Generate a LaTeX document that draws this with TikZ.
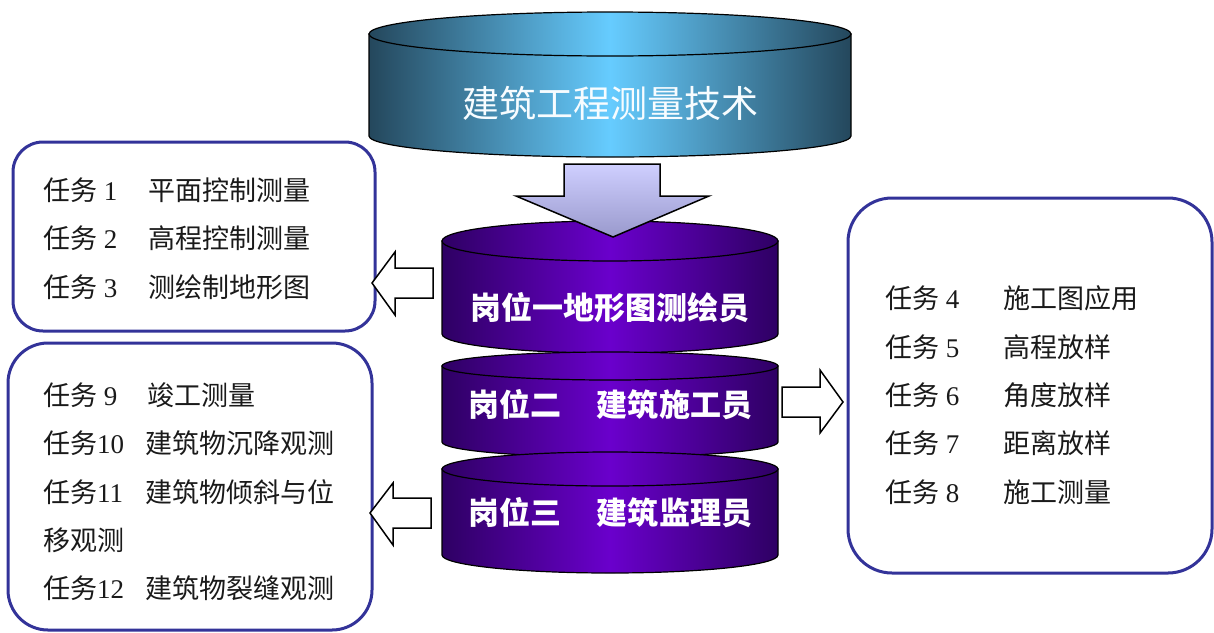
\documentclass[tikz,border=0pt]{standalone}
\usepackage{fontspec}
\setmainfont{Liberation Serif}
\newfontfamily\cjk{Noto Sans CJK SC}
\definecolor{boxblue}{HTML}{333399}
\definecolor{txtgray}{HTML}{1A1A1A}
\definecolor{tealdark}{HTML}{24475C}
\definecolor{teallight}{HTML}{66CCFF}
\definecolor{purpdark}{HTML}{2E0063}
\definecolor{purplight}{HTML}{6A00CC}
\definecolor{arrtop}{HTML}{CFCFFF}
\definecolor{arrbot}{HTML}{9999CC}
\newcommand{\mycyl}[7]{%
  \draw[#7] ({#1-#2},{-#3}) -- ({#1-#2},{-#5}) arc[start angle=180,end angle=360,x radius=#2pt,y radius=#6pt] -- ({#1+#2},{-#3}) -- cycle;
  \draw[#7] (#1,{-#3}) ellipse[x radius=#2pt, y radius=#4pt];
}
\tikzset{
  tealcyl/.style={line width=1.2pt, draw=black, left color=tealdark, right color=tealdark, middle color=teallight},
  purpcyl/.style={line width=1.2pt, draw=black, left color=purpdark, right color=purpdark, middle color=purplight},
  taskbox/.style={draw=boxblue, line width=3pt, rounded corners=#1, fill=white, inner sep=0pt, outer sep=0pt},
  tasktxt/.style={anchor=base west, inner sep=0pt, font=\fontsize{27}{30}\selectfont, text=txtgray},
  cyltxt/.style={anchor=base, inner sep=0pt, text=white, font=\cjk\bfseries\fontsize{31}{34}\selectfont},
  hollowarrow/.style={draw=black, fill=white, line width=1.5pt, line join=miter},
}
\begin{document}
\begin{tikzpicture}[x=1pt,y=1pt]
\useasboundingbox (0,0) rectangle (1214,-632);
% top cylinder
\mycyl{610}{241}{34}{22}{136}{21}{tealcyl}
\node[anchor=base, inner sep=0pt, text=white!95!teallight, font=\cjk\fontsize{37}{40}\selectfont] (title) at (610,-117) {建筑工程测量技术};
% purple cylinders
\mycyl{610}{168}{241}{20}{334}{19}{purpcyl}
\mycyl{610}{168}{366}{14}{442}{15}{purpcyl}
\mycyl{610}{168}{469}{17}{555}{18}{purpcyl}
\node[cyltxt] (p1) at (610,-319) {岗位一地形图测绘员};
\node[cyltxt] (p2) at (610,-416) {岗位二\hspace{36pt}建筑施工员};
\node[cyltxt] (p3) at (610,-524) {岗位三\hspace{36pt}建筑监理员};
% down arrow
\draw[line width=1.5pt, draw=black, top color=arrtop, bottom color=arrbot, line join=miter]
  (564,-164) -- (660,-164) -- (660,-196) -- (709,-196) -- (613,-237) -- (516,-196) -- (564,-196) -- cycle;
% boxes
\node[taskbox=30pt, minimum width=362pt, minimum height=189pt] (b1) at (194,-236.5) {};
\node[taskbox=40pt, minimum width=364pt, minimum height=287pt] (b2) at (190,-486.5) {};
\node[taskbox=44pt, minimum width=364pt, minimum height=375pt] (b3) at (1030,-385.5) {};
% side arrows
\draw[hollowarrow] (433,-268) -- (395,-268) -- (395,-252) -- (372,-283) -- (395,-315) -- (395,-298) -- (433,-298) -- cycle;
\draw[hollowarrow] (431,-498) -- (393,-498) -- (393,-483) -- (370,-513) -- (393,-545) -- (393,-528) -- (431,-528) -- cycle;
\draw[hollowarrow] (782,-387) -- (820,-387) -- (820,-370) -- (843,-402) -- (820,-433) -- (820,-417) -- (782,-417) -- cycle;
% box 1 text
\node[tasktxt] (t1a) at (43,-200) {{\cjk 任务} 1};
\node[tasktxt] (t1b) at (148,-200) {\cjk 平面控制测量};
\node[tasktxt] (t2a) at (43,-248) {{\cjk 任务} 2};
\node[tasktxt] (t2b) at (148,-248) {\cjk 高程控制测量};
\node[tasktxt] (t3a) at (43,-297) {{\cjk 任务} 3};
\node[tasktxt] (t3b) at (148,-297) {\cjk 测绘制地形图};
% box 2 text
\node[tasktxt] (t9a) at (43,-405) {{\cjk 任务} 9};
\node[tasktxt] (t9b) at (147,-405) {\cjk 竣工测量};
\node[tasktxt] (t10a) at (43,-453) {{\cjk 任务}10};
\node[tasktxt] (t10b) at (145,-453) {\cjk 建筑物沉降观测};
\node[tasktxt] (t11a) at (43,-502) {{\cjk 任务}11};
\node[tasktxt] (t11b) at (145,-502) {\cjk 建筑物倾斜与位};
\node[tasktxt] (t11c) at (43,-550) {\cjk 移观测};
\node[tasktxt] (t12a) at (43,-598) {{\cjk 任务}12};
\node[tasktxt] (t12b) at (145,-598) {\cjk 建筑物裂缝观测};
% box 3 text
\node[tasktxt] (t4a) at (885,-308) {{\cjk 任务} 4};
\node[tasktxt] (t4b) at (1003,-308) {\cjk 施工图应用};
\node[tasktxt] (t5a) at (885,-357) {{\cjk 任务} 5};
\node[tasktxt] (t5b) at (1003,-357) {\cjk 高程放样};
\node[tasktxt] (t6a) at (885,-405) {{\cjk 任务} 6};
\node[tasktxt] (t6b) at (1003,-405) {\cjk 角度放样};
\node[tasktxt] (t7a) at (885,-453) {{\cjk 任务} 7};
\node[tasktxt] (t7b) at (1003,-453) {\cjk 距离放样};
\node[tasktxt] (t8a) at (885,-502) {{\cjk 任务} 8};
\node[tasktxt] (t8b) at (1003,-502) {\cjk 施工测量};
\end{tikzpicture}
\end{document}
